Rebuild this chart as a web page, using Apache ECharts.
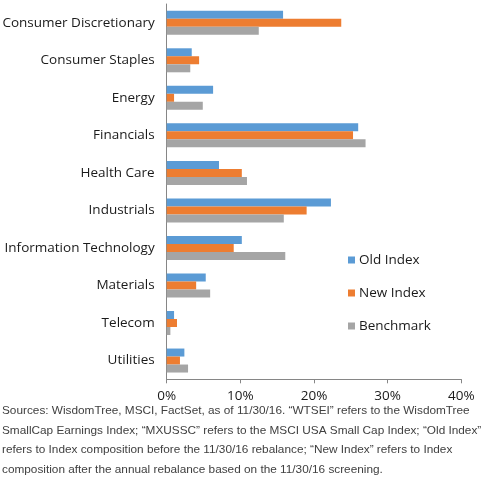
<!DOCTYPE html>
<html><head><meta charset="utf-8">
<script src="https://cdn.jsdelivr.net/npm/echarts@6/dist/echarts.min.js"></script>
<style>html,body{margin:0;padding:0;background:#fff}#c{width:484px;height:487px}</style>
</head><body><div id="c"></div>
<script>
const categories = ["Consumer Discretionary","Consumer Staples","Energy","Financials","Health Care","Industrials","Information Technology","Materials","Telecom","Utilities"];
const oldIndex = [15.8, 3.4, 6.3, 26.0, 7.1, 22.3, 10.2, 5.3, 1.0, 2.4];
const newIndex = [23.7, 4.4, 1.0, 25.3, 10.2, 19.0, 9.1, 4.0, 1.4, 1.8];
const benchmark = [12.5, 3.2, 4.9, 27.0, 10.9, 15.9, 16.1, 5.9, 0.5, 2.9];
const seriesNames = ["Old Index","New Index","Benchmark"];
const xTicks = [0, 10, 20, 30, 40];
const sourceLines = [
  "Sources: WisdomTree, MSCI, FactSet, as of 11/30/16. \u201cWTSEI\u201d refers to the WisdomTree",
  "SmallCap Earnings Index; \u201cMXUSSC\u201d refers to the MSCI USA Small Cap Index; \u201cOld Index\u201d",
  "refers to Index composition before the 11/30/16 rebalance; \u201cNew Index\u201d refers to Index",
  "composition after the annual rebalance based on the 11/30/16 screening."
];
const colors = ["#5B9BD5","#ED7D31","#A5A5A5"];
const font = "'Open Sans', 'Noto Sans', sans-serif";
const chart = echarts.init(document.getElementById('c'), null, {renderer:'canvas'});
chart.setOption({
  animation:false,
  color: colors,
  grid:{left:166.7, right:22.7, top:4, bottom:107.7, containLabel:false, outerBoundsMode:'none'},
  legend:{
    orient:'vertical', left:343, top:248, itemGap:19,
    itemWidth:7, itemHeight:7, icon:'rect',
    textStyle:{fontFamily:font, fontSize:13.5, color:'#1a1a1a', padding:[0,0,0,-1]},
    data: seriesNames
  },
  xAxis:{
    type:'value', min:xTicks[0], max:xTicks[xTicks.length-1], interval:10,
    axisLine:{show:true, lineStyle:{color:'#868686', width:1}},
    axisTick:{show:true, length:4, lineStyle:{color:'#868686'}},
    splitLine:{show:false},
    axisLabel:{formatter:v=>v+'%', fontFamily:font, fontSize:13.5, color:'#1a1a1a', margin:10}
  },
  yAxis:{
    type:'category', data:categories, inverse:true,
    axisLine:{show:true, lineStyle:{color:'#868686', width:1}},
    axisTick:{show:false},
    axisLabel:{fontFamily:font, fontSize:13.5, color:'#1a1a1a', margin:12}
  },
  series:[
    {name:seriesNames[0], type:'bar', data:oldIndex, barWidth:8, barGap:'0%', barCategoryGap:'36%'},
    {name:seriesNames[1], type:'bar', data:newIndex, barWidth:8, barGap:'0%'},
    {name:seriesNames[2], type:'bar', data:benchmark, barWidth:8, barGap:'0%'}
  ],
  graphic:[{
    type:'text', left:2, top:401,
    style:{text:sourceLines.join('\n'), fontFamily:"'Liberation Sans', Arial, sans-serif", fontSize:11.8, lineHeight:19.5, fill:'#404040'}
  }]
});
</script></body></html>
